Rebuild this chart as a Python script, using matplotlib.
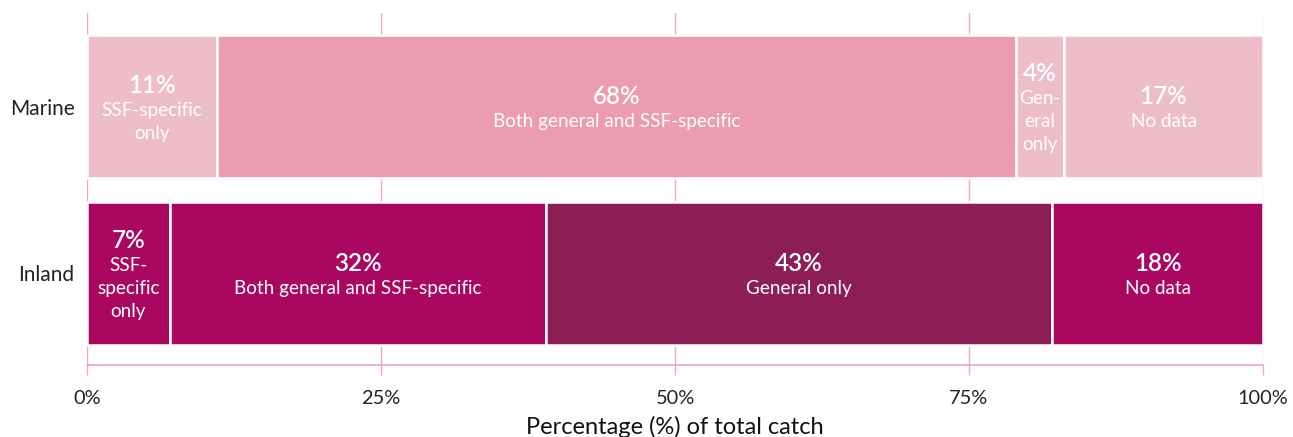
import numpy as np
import matplotlib.pyplot as plt

plt.rcParams['font.family'] = ['Lato', 'DejaVu Sans']

# data
rows = ['Marine', 'Inland']
marine_vals = [11.05, 67.95, 4.1, 16.9]
marine_pcts = ['11%', '68%', '4%', '17%']
marine_labels = [['SSF-specific', 'only'], ['Both general and SSF-specific'],
                 ['Gen-', 'eral', 'only'], ['No data']]
inland_vals = [7.05, 31.95, 43.1, 17.9]
inland_pcts = ['7%', '32%', '43%', '18%']
inland_labels = [['SSF-', 'specific', 'only'], ['Both general and SSF-specific'],
                 ['General only'], ['No data']]
xticks = [0, 25, 50, 75, 100]
xtick_labels = ['0%', '25%', '50%', '75%', '100%']

marine_colors = ['#EDBDC9', '#EB9CB0', '#EDBDC9', '#EDBDC9']
inland_colors = ['#AA0860', '#AA0860', '#8C1D55', '#AA0860']
grid_c = '#F2A7BC'

fig = plt.figure(figsize=(12.93, 4.37), dpi=100)
ax = fig.add_axes([87/1293, 1 - 365/437, 1176/1293, 352/437])

bar_h = 0.856
px = 72 / 100  # pixels -> points
pct_gap = 25   # px between percentage and first sub line
sub_gap = 23   # px between sub lines
shift = 2.5    # px downward

for yi, (vals, pcts, labels, colors) in enumerate([
        (marine_vals, marine_pcts, marine_labels, marine_colors),
        (inland_vals, inland_pcts, inland_labels, inland_colors)]):
    left = 0
    for v, p, lab, c in zip(vals, pcts, labels, colors):
        ax.barh(yi, v, left=left, height=bar_h, color=c, edgecolor='white',
                linewidth=1.8, zorder=3)
        cx = left + v / 2
        k = len(lab)
        y0 = -(pct_gap + sub_gap * (k - 1)) / 2 + shift
        ax.annotate(p, (cx, yi), xytext=(0, -y0 * px), textcoords='offset points',
                    ha='center', va='center', color='white',
                    fontsize=17.5, fontweight='semibold', zorder=4)
        for j, t in enumerate(lab):
            yo = y0 + pct_gap + sub_gap * j
            ax.annotate(t, (cx, yi), xytext=(0, -yo * px), textcoords='offset points',
                        ha='center', va='center', color='white',
                        fontsize=13.6, zorder=4)
        left += v

ax.set_xlim(0, 100)
ax.set_ylim(1.548, -0.56)
ax.set_yticks(range(len(rows)))
ax.set_yticklabels(rows, fontsize=15, color='#222222')
ax.set_xticks(xticks)
ax.set_xticklabels(xtick_labels, fontsize=14.4, color='#222222')
ax.tick_params(axis='y', length=0, pad=9)
ax.tick_params(axis='x', length=7.2, width=1, color=grid_c, pad=11)

ax.set_axisbelow(True)
ax.grid(axis='x', color=grid_c, linewidth=1, zorder=0)
for s in ['top', 'right', 'left']:
    ax.spines[s].set_visible(False)
ax.spines['bottom'].set_color(grid_c)
ax.spines['bottom'].set_linewidth(1.2)

ax.set_xlabel('Percentage (%) of total catch', fontsize=17, color='#111111', labelpad=6)

fig.savefig('out.png', dpi=100)
